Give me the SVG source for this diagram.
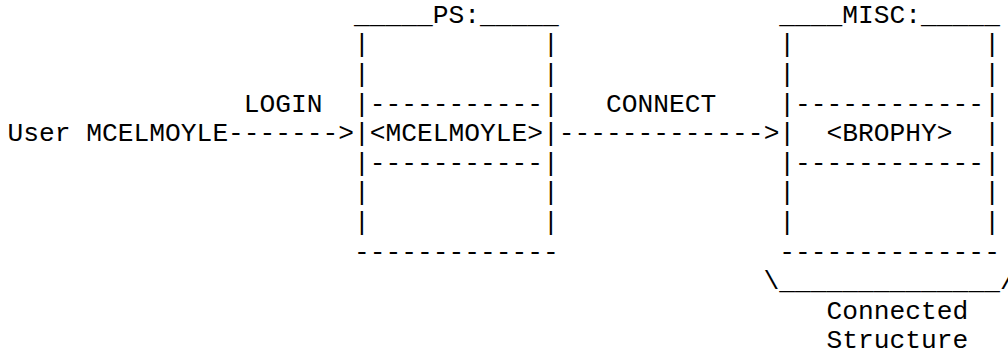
<svg xmlns="http://www.w3.org/2000/svg" width="1008" height="352" viewBox="0 0 1008 352" xml:space="preserve">
<style>
text { font-family: "Courier New", "Nimbus Mono PS", "Nimbus Mono L", FreeMono, Courier, "Liberation Mono", monospace; font-size: 26.25px; fill: #000; white-space: pre; }
</style>
<rect width="1008" height="352" fill="#fff"/>
<g id="user">
<text x="7.6" y="141.2">User MCELMOYLE</text>
</g>
<g id="connectors">
<text x="243.85" y="111.6">LOGIN</text>
<text x="228.1" y="141.2">-------&gt;</text>
<text x="606.1" y="111.6">CONNECT</text>
<text x="558.85" y="141.2">-------------&gt;</text>
</g>
<g id="ps">
<text x="354.1" y="22.8">_____PS:_____</text>
<text x="354.1" y="52.4">|           |</text>
<text x="354.1" y="82">|           |</text>
<text x="354.1" y="111.6">|-----------|</text>
<text x="354.1" y="141.2">|&lt;MCELMOYLE&gt;|</text>
<text x="354.1" y="170.8">|-----------|</text>
<text x="354.1" y="200.4">|           |</text>
<text x="354.1" y="230">|           |</text>
<text x="354.1" y="259.6">-------------</text>
</g>
<g id="misc">
<text x="779.35" y="22.8">____MISC:_____</text>
<text x="779.35" y="52.4">|            |</text>
<text x="779.35" y="82">|            |</text>
<text x="779.35" y="111.6">|------------|</text>
<text x="779.35" y="141.2">|  &lt;BROPHY&gt;  |</text>
<text x="779.35" y="170.8">|------------|</text>
<text x="779.35" y="200.4">|            |</text>
<text x="779.35" y="230">|            |</text>
<text x="779.35" y="259.6">--------------</text>
<text x="763.6" y="289.2">\______________/</text>
<text x="826.6" y="318.8">Connected</text>
<text x="826.6" y="348.4">Structure</text>
</g>
</svg>
